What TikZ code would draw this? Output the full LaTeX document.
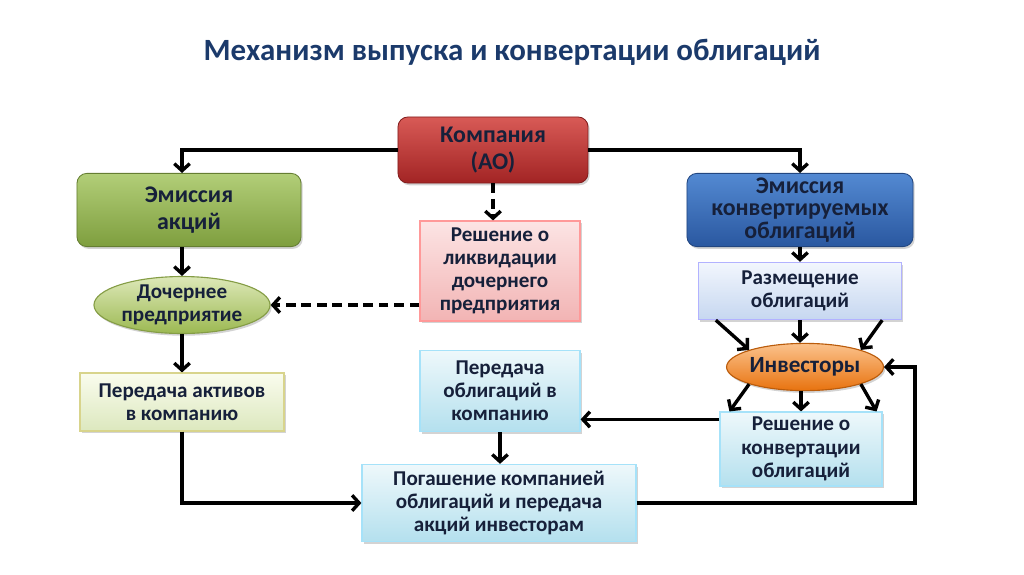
\documentclass[tikz,border=0pt]{standalone}
\usepackage{fontspec}
\setmainfont{Carlito}
\usetikzlibrary{arrows.meta,shapes.geometric,shadows}

\definecolor{txtcol}{HTML}{16203A}
\definecolor{titlecol}{HTML}{1B3A6B}
\definecolor{redtop}{HTML}{D85A56}
\definecolor{redbot}{HTML}{A22424}
\definecolor{grntop}{HTML}{B2CE78}
\definecolor{grnbot}{HTML}{7E9E3E}
\definecolor{blutop}{HTML}{5389D2}
\definecolor{blubot}{HTML}{2A58A0}
\definecolor{pnktop}{HTML}{FCE4E4}
\definecolor{pnkbot}{HTML}{F2B4B4}
\definecolor{olvtop}{HTML}{DDE8B8}
\definecolor{olvbot}{HTML}{9CB952}
\definecolor{lbltop}{HTML}{F2F6FD}
\definecolor{lblbot}{HTML}{C6D7F0}
\definecolor{orgtop}{HTML}{FBC28C}
\definecolor{orgbot}{HTML}{E8730F}
\definecolor{ylwtop}{HTML}{FAFCEE}
\definecolor{ylwbot}{HTML}{DCE8BE}
\definecolor{cyntop}{HTML}{EEF8FB}
\definecolor{cynbot}{HTML}{B4E0EE}

\begin{document}
\begin{tikzpicture}[x=0.025cm,y=-0.025cm,
    font=\fontsize{15}{16.5}\selectfont\bfseries,
    every node/.style={text=txtcol, align=center, inner sep=1pt},
    sh/.style={drop shadow={opacity=0.35, shadow xshift=1.2pt, shadow yshift=-1.6pt}},
    bigbox/.style={rectangle, rounded corners=7pt, draw=#1, line width=0.6pt, sh,
                   font=\fontsize{17}{19}\selectfont\bfseries},
    box/.style={rectangle, draw=#1, line width=0.8pt, sh},
    oval/.style={ellipse, draw=#1, line width=0.8pt, sh},
    link/.style={line width=2.4pt, -{Straight Barb[length=5pt,width=11pt]}},
    dlink/.style={link, dash pattern=on 7pt off 4pt}]

    \useasboundingbox (0,0) rectangle (1024,574);

    \node[font=\fontsize{22}{25}\selectfont\bfseries, text=titlecol] (title) at (512,52)
        {Механизм выпуска и конвертации облигаций};

    % top row
    \node[bigbox=redbot!80!black, top color=redtop, bottom color=redbot,
          minimum width=4.75cm, minimum height=1.65cm] (komp) at (493,150) {Компания\\(АО)};
    \node[bigbox=grnbot!80!black, top color=grntop, bottom color=grnbot,
          minimum width=5.6cm, minimum height=1.83cm] (emakc) at (189,210) {Эмиссия\\акций};
    \node[bigbox=blubot!80!black, top color=blutop, bottom color=blubot,
          minimum width=5.65cm, minimum height=1.83cm,
          font=\fontsize{17}{15.8}\selectfont\bfseries] (emobl) at (800,210)
          {Эмиссия\\конвертируемых\\облигаций};

    % middle
    \node[box=red!40, top color=pnktop, bottom color=pnkbot,
          minimum width=4cm, minimum height=2.5cm] (likv) at (500,271)
          {Решение о\\ликвидации\\дочернего\\предприятия};
    \node[oval=olvbot!85!black, top color=olvtop, bottom color=olvbot,
          minimum width=4.4cm, minimum height=1.38cm, inner sep=0pt] (doch) at (182,305)
          {Дочернее\\предприятие};
    \node[box=blue!30, top color=lbltop, bottom color=lblbot,
          minimum width=5.08cm, minimum height=1.43cm] (razm) at (800,291)
          {Размещение\\облигаций};
    \node[oval=orgbot!80!black, top color=orgtop, bottom color=orgbot,
          minimum width=3.75cm, minimum height=1.18cm, inner sep=0pt,
          font=\fontsize{16.5}{18}\selectfont\bfseries] (inv) at (805,367)
          {Инвесторы};

    % bottom
    \node[box=olive!35, top color=ylwtop, bottom color=ylwbot,
          minimum width=5.1cm, minimum height=1.45cm] (act) at (182,402)
          {Передача активов\\в компанию};
    \node[box=cyan!35, top color=cyntop, bottom color=cynbot,
          minimum width=4cm, minimum height=2.03cm] (pobl) at (500,391)
          {Передача\\облигаций в\\компанию};
    \node[box=cyan!35, top color=cyntop, bottom color=cynbot,
          minimum width=4.05cm, minimum height=1.85cm] (konv) at (801,449)
          {Решение о\\конвертации\\облигаций};
    \node[box=cyan!35, top color=cyntop, bottom color=cynbot,
          minimum width=6.85cm, minimum height=1.93cm] (pog) at (499,503)
          {Погашение компанией\\облигаций и передача\\акций инвесторам};
    \coordinate (rt) at (915,367);

    % connectors
    \draw[link] (komp.west) -| (doch.north |- emakc.north);
    \draw[link] (komp.east) -| (emobl.north);
    \draw[dlink] (komp.south) -- (komp.south |- likv.north);
    \draw[dlink] (doch.east -| likv.west) -- (doch.east);
    \draw[link] (emakc.south -| doch) -- (doch.north);
    \draw[link] (doch.south) -- (act.north);
    \draw[link] (act.south) |- (pog.west);
    \draw[link] (emobl.south) -- (razm.north);
    \draw[link] ([xshift=0.45cm]razm.south west) -- (inv.north west);
    \draw[link] (razm.south) -- (razm.south |- inv.north);
    \draw[link] ([xshift=-0.5cm]razm.south east) -- (inv.north east);
    \draw[link] (inv.south west) -- ([xshift=0.25cm]konv.north west);
    \draw[link] (inv.south -| konv.north) -- (konv.north);
    \draw[link] (inv.south east) -- ([xshift=-0.15cm]konv.north east);
    \draw[link] ([yshift=-0.2cm]konv.north west) -- ([yshift=-0.2cm]konv.north west -| pobl.east);
    \draw[link] (pobl.south) -- (pobl.south |- pog.north);
    \draw[link] (pog.east) -| (rt) -- (inv.east);

\end{tikzpicture}
\end{document}
